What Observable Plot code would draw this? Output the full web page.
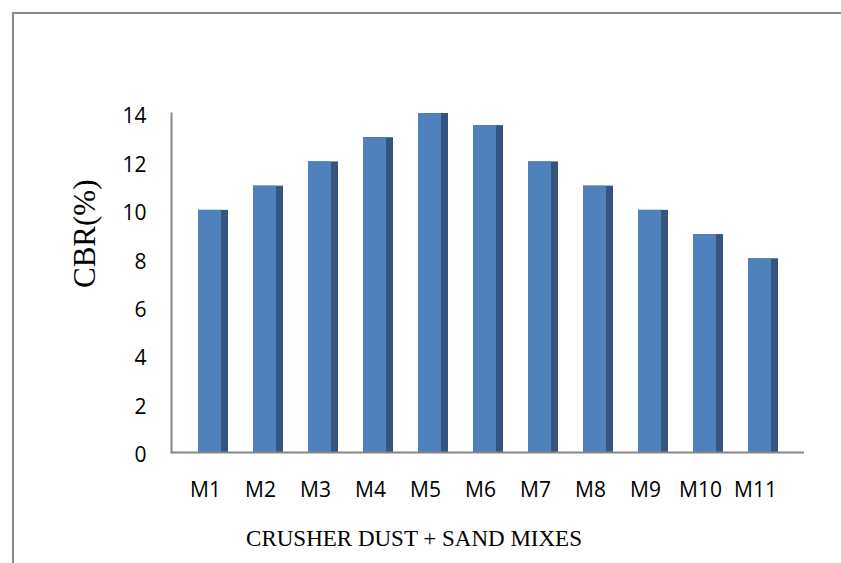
<!DOCTYPE html>
<html>
<head>
<meta charset="utf-8">
<script src="https://cdn.jsdelivr.net/npm/d3@7"></script>
<script src="https://cdn.jsdelivr.net/npm/@observablehq/plot@0.6"></script>
<style>
  html, body { margin: 0; padding: 0; background: #fff; }
  #wrap { position: relative; width: 841px; height: 563px; overflow: hidden; }
  #border { position: absolute; left: 12px; top: 12px; width: 900px; height: 700px;
            border-left: 2px solid #8a8a8a; border-top: 2px solid #8a8a8a; }
  #chart { position: absolute; left: 0; top: 0; }
</style>
</head>
<body>
<div id="wrap"><div id="border"></div><div id="chart"></div></div>
<script>
const mixes = ["M1","M2","M3","M4","M5","M6","M7","M8","M9","M10","M11"];
const cbr = [10, 11, 12, 13, 14, 13.5, 12, 11, 10, 9, 8];
const yTicks = [0, 2, 4, 6, 8, 10, 12, 14];
const yTitle = "CBR(%)";
const xTitle = "CRUSHER DUST + SAND MIXES";

const data = mixes.map((m, i) => ({mix: m, value: cbr[i]}));

const sans = "'Open Sans', sans-serif";
const serif = "'Liberation Serif', 'Times New Roman', serif";

const chart = Plot.plot({
  width: 841,
  height: 563,
  marginLeft: 171,
  marginRight: 37,
  marginTop: 113,
  marginBottom: 111,
  style: {background: "transparent", overflow: "visible"},
  x: {domain: mixes, paddingInner: 0.46, paddingOuter: 0.41, axis: null},
  y: {domain: [0, 14], axis: null},
  marks: [
    Plot.barY(data, {x: "mix", y: "value", fill: "#34557f"}),
    Plot.barY(data, {x: "mix", y: "value", fill: "#4f81bd", insetRight: 7}),
    Plot.frame({anchor: "left", stroke: "#868686", strokeWidth: 2}),
    Plot.ruleY([0], {stroke: "#868686", strokeWidth: 2}),
    Plot.axisY({ticks: yTicks, tickSize: 0, tickPadding: 25, fontSize: 21, fontFamily: sans, fill: "#000", label: null, dy: 3}),
    Plot.axisX({tickSize: 0, tickPadding: 30, fontSize: 21, fontFamily: sans, fill: "#000", label: null, dx: -8}),
    Plot.text([yTitle], {frameAnchor: "left", dx: -86, dy: 5, rotate: -90, fontSize: 31, fontFamily: serif, fill: "#000"}),
    Plot.text([xTitle], {frameAnchor: "bottom", dx: -74, dy: 93, fontSize: 23, fontFamily: serif, fill: "#000"})
  ]
});
document.getElementById("chart").appendChild(chart);
</script>
</body>
</html>
